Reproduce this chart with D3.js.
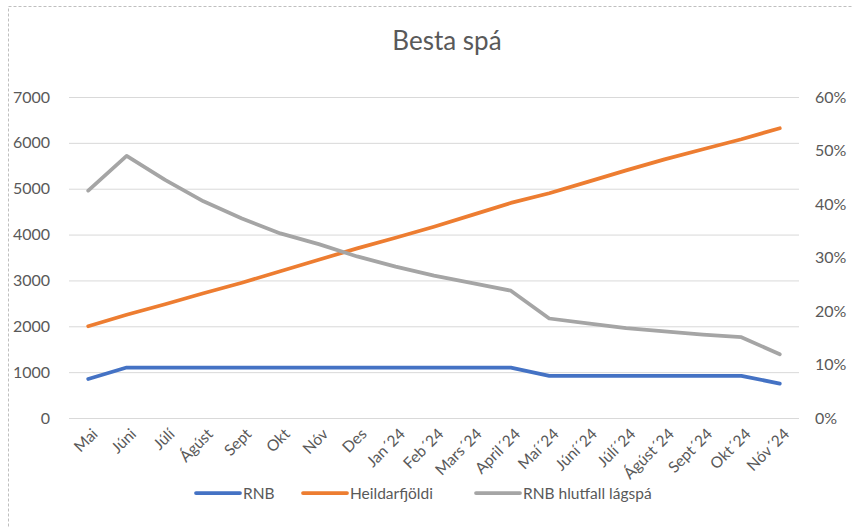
<!DOCTYPE html>
<html><head><meta charset="utf-8">
<script src="https://cdn.jsdelivr.net/npm/d3@7"></script>
<style>
html,body{margin:0;padding:0;background:#fff;}
text{font-family:Lato,"Open Sans",sans-serif;fill:#595959;}
</style></head>
<body><svg id="c" width="853" height="527"></svg>
<script>
const categories = ["Mai","Júni","Júlí","Ágúst","Sept","Okt","Nóv","Des","Jan´24","Feb´24","Mars´24","April´24","Maí´24","Júní´24","Júlí´24","Ágúst´24","Sept´24","Okt´24","Nóv´24"];
const rnb = [850,1100,1100,1100,1100,1100,1100,1100,1100,1100,1100,1100,920,920,920,920,920,920,750];
const heild = [2000,2250,2480,2720,2950,3200,3450,3700,3930,4170,4430,4690,4900,5150,5400,5640,5860,6080,6320];
const hlutfall = [0.425,0.49,0.445,0.405,0.373,0.345,0.325,0.302,0.283,0.266,0.252,0.238,0.186,0.177,0.168,0.162,0.156,0.151,0.119];
const leftTicks = [0,1000,2000,3000,4000,5000,6000,7000];
const rightTicks = [0,0.1,0.2,0.3,0.4,0.5,0.6];
const title = "Besta spá";
const seriesNames = ["RNB","Heildarfjöldi","RNB hlutfall lágspá"];
const colors = ["#4472C4","#ED7D31","#A5A5A5"];

const svg = d3.select("#c");
svg.append("rect").attr("x",8.5).attr("y",6.5).attr("width",900).attr("height",600)
  .attr("fill","none").attr("stroke","#bfbfbf").attr("stroke-dasharray","3,2");

const x = d3.scalePoint().domain(categories).range([69,799]).padding(0.5);
const yL = d3.scaleLinear().domain([0,7000]).range([418,97]);
const yR = d3.scaleLinear().domain([0,0.6]).range([418,97]);

svg.append("text").attr("x",447).attr("y",50).attr("text-anchor","middle")
  .style("font-size","26px").text(title);

const gL = svg.append("g").attr("transform","translate(69,0)")
  .call(d3.axisLeft(yL).tickValues(leftTicks).tickSize(-730).tickFormat(d3.format("d")).tickPadding(19));
gL.select(".domain").remove();
gL.selectAll("line").attr("stroke","#d9d9d9").attr("stroke-width",1);
gL.selectAll("text").style("font-size","16px").style("fill","#595959");

const gR = svg.append("g").attr("transform","translate(799,0)")
  .call(d3.axisRight(yR).tickValues(rightTicks).tickSize(0).tickFormat(d3.format(".0%")).tickPadding(16));
gR.select(".domain").remove();
gR.selectAll("text").style("font-size","16px").style("fill","#595959");

const gX = svg.append("g").attr("transform","translate(0,418)")
  .call(d3.axisBottom(x).tickSize(0).tickPadding(0));
gX.select(".domain").remove();
gX.selectAll("text").style("font-size","15.5px").style("fill","#595959")
  .attr("text-anchor","end").attr("dy",0)
  .attr("transform","translate(10,17) rotate(-45)");

const line = (ys,sc) => d3.line().x((d,i)=>x(categories[i])).y(d=>sc(d))(ys);
[[rnb,yL],[heild,yL],[hlutfall,yR]].forEach(([v,sc],i)=>{
  svg.append("path").attr("d",line(v,sc)).attr("fill","none").attr("stroke",colors[i])
    .attr("stroke-width",3.75).attr("stroke-linejoin","round").attr("stroke-linecap","round");
});

const legX = [196,303,476];
seriesNames.forEach((n,i)=>{
  svg.append("line").attr("x1",legX[i]).attr("x2",legX[i]+44).attr("y1",493).attr("y2",493)
    .attr("stroke",colors[i]).attr("stroke-width",3.75).attr("stroke-linecap","round");
  svg.append("text").attr("x",legX[i]+47).attr("y",499).style("font-size","15.5px").text(n);
});
</script></body></html>
